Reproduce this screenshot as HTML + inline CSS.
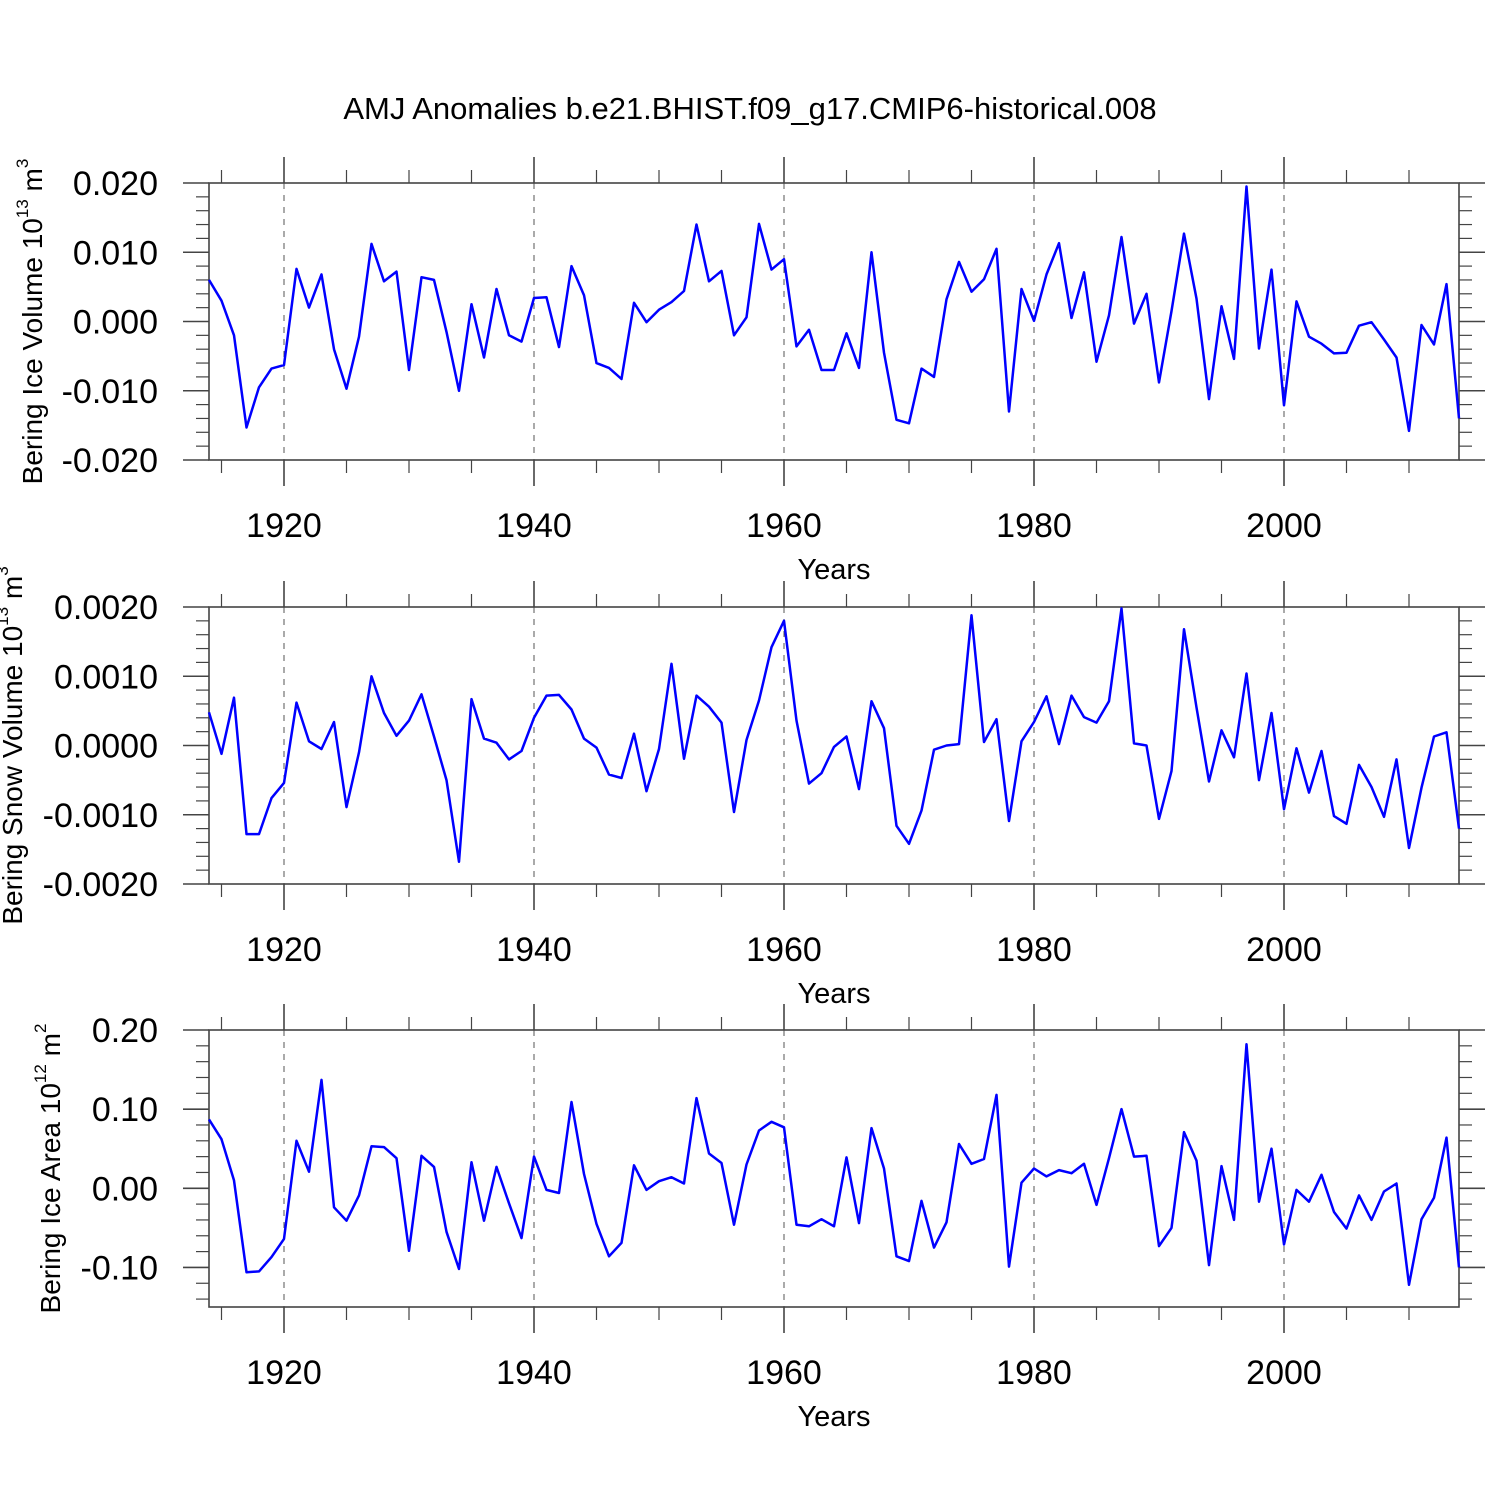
<!DOCTYPE html>
<html><head><meta charset="utf-8"><style>body{margin:0;background:#fff}svg{display:block}text{font-family:"Liberation Sans",sans-serif;fill:#000}</style></head>
<body>
<svg id="chart" width="1500" height="1500" viewBox="0 0 1500 1500" xmlns="http://www.w3.org/2000/svg">
<text x="750" y="119" font-size="31" text-anchor="middle">AMJ Anomalies b.e21.BHIST.f09_g17.CMIP6-historical.008</text>
</svg>
<script>
const startYear = 1914;
const iceVolume = [6,3,-2,-15.3,-9.5,-6.8,-6.3,7.6,2,6.8,-4,-9.7,-2.2,11.2,5.8,7.2,-7,6.4,6,-1.5,-10,2.5,-5.2,4.7,-2,-2.9,3.4,3.5,-3.7,8,3.8,-6,-6.7,-8.3,2.7,-0.1,1.7,2.8,4.4,14,5.8,7.3,-2,0.6,14.1,7.5,9,-3.6,-1.2,-7,-7,-1.7,-6.7,10,-4.5,-14.2,-14.7,-6.8,-8,3.2,8.6,4.3,6.1,10.5,-13,4.7,0.1,6.8,11.3,0.5,7.1,-5.8,0.9,12.2,-0.3,4,-8.8,1.5,12.7,3.3,-11.2,2.2,-5.4,19.5,-3.9,7.5,-12.1,2.9,-2.2,-3.2,-4.6,-4.5,-0.6,-0.1,-2.6,-5.2,-15.8,-0.5,-3.3,5.4,-14].map(v=>v*0.001);
const snowVolume = [4.8,-1.2,6.9,-12.8,-12.8,-7.6,-5.4,6.2,0.6,-0.5,3.4,-8.9,-1,10,4.7,1.4,3.6,7.4,1.3,-5,-16.8,6.7,1,0.4,-2,-0.8,4,7.2,7.3,5.2,1,-0.3,-4.2,-4.7,1.7,-6.6,-0.5,11.8,-1.9,7.2,5.6,3.3,-9.6,0.8,6.5,14.2,18,3.6,-5.5,-4,-0.2,1.3,-6.3,6.4,2.5,-11.6,-14.2,-9.4,-0.6,0,0.2,18.8,0.5,3.8,-10.9,0.6,3.4,7.1,0.2,7.2,4.1,3.3,6.4,19.8,0.3,0,-10.6,-3.7,16.8,5.5,-5.2,2.2,-1.7,10.4,-5,4.7,-9.2,-0.4,-6.8,-0.8,-10.2,-11.3,-2.8,-6,-10.3,-2,-14.8,-6.1,1.3,1.9,-12].map(v=>v*0.0001);
const iceArea = [8.7,6.2,1,-10.6,-10.5,-8.7,-6.4,6,2.1,13.7,-2.4,-4.1,-0.9,5.3,5.2,3.8,-7.9,4.1,2.7,-5.5,-10.2,3.3,-4.1,2.7,-1.9,-6.3,4,-0.2,-0.6,10.9,1.8,-4.5,-8.6,-6.9,2.9,-0.2,0.9,1.4,0.6,11.4,4.4,3.2,-4.6,3,7.3,8.4,7.7,-4.6,-4.8,-3.9,-4.8,3.9,-4.4,7.6,2.5,-8.6,-9.2,-1.6,-7.5,-4.3,5.6,3.1,3.7,11.8,-9.9,0.7,2.5,1.5,2.3,1.9,3.1,-2.1,3.8,10,4,4.1,-7.3,-5,7.1,3.5,-9.7,2.8,-4,18.2,-1.7,5,-7.1,-0.2,-1.7,1.7,-3,-5.1,-0.9,-4,-0.4,0.6,-12.2,-3.9,-1.2,6.4,-10].map(v=>v*0.01);
const xTicks = [1920,1940,1960,1980,2000];
const yTicks1 = ["0.020","0.010","0.000","-0.010","-0.020"];
const yTicks2 = ["0.0020","0.0010","0.0000","-0.0010","-0.0020"];
const yTicks3 = ["0.20","0.10","0.00","-0.10"];

const NS="http://www.w3.org/2000/svg";
const svg=document.getElementById('chart');
function mk(tag,attrs,parent){const e=document.createElementNS(NS,tag);for(const k in attrs)e.setAttribute(k,attrs[k]);(parent||svg).appendChild(e);return e;}
const X0=209,X1=1459,Y0=1914,Y1=2014;
function xs(y){return X0+(y-Y0)/(Y1-Y0)*(X1-X0);}

function panel(id,top,bottom,ymin,ymax,data,ticks,minorStep,title,sup,unitExp){
  const g=mk('g',{});
  
  
  const ys=v=>bottom-(v-ymin)/(ymax-ymin)*(bottom-top);
  xTicks.forEach(t=>{const l=mk('line',{x1:xs(t),x2:xs(t),y1:top,y2:bottom,stroke:'#555','stroke-width':1,'stroke-dasharray':'6,6'},g);
    });
  for(let y=1915;y<=2010;y+=5){const maj=y%20===0;const L=maj?26:13;
    mk('line',{x1:xs(y),x2:xs(y),y1:top,y2:top-L,stroke:'#444','stroke-width':maj?1.6:1.2},g);
    mk('line',{x1:xs(y),x2:xs(y),y1:bottom,y2:bottom+L,stroke:'#444','stroke-width':maj?1.6:1.2},g);}
  xTicks.forEach(t=>{const tx=mk('text',{x:xs(t),y:bottom+77,'font-size':34,'text-anchor':'middle'},g);tx.textContent=t;
    });
  const xt=mk('text',{x:834,y:bottom+119,'font-size':29,'text-anchor':'middle'},g);xt.textContent='Years';
  
  const i0=Math.ceil(ymin/minorStep-1e-6), i1=Math.floor(ymax/minorStep+1e-6);
  for(let i=i0;i<=i1;i++){const v=i*minorStep;const yy=ys(v);
    const majIdx=ticks.findIndex(t=>Math.abs(parseFloat(t)-v)<minorStep/10);
    const L=majIdx>=0?26:13;
    mk('line',{x1:X0,x2:X0-L,y1:yy,y2:yy,stroke:'#444','stroke-width':majIdx>=0?1.6:1.2},g);
    mk('line',{x1:X1,x2:X1+L,y1:yy,y2:yy,stroke:'#444','stroke-width':majIdx>=0?1.6:1.2},g);}
  ticks.forEach(t=>{const tx=mk('text',{x:158,y:ys(parseFloat(t))+12,'font-size':34,'text-anchor':'end'},g);tx.textContent=t;
    });
  const fr=mk('rect',{x:X0,y:top,width:X1-X0,height:bottom-top,fill:'none',stroke:'#444','stroke-width':1.6},g);
  
  const pts=data.map((v,i)=>xs(startYear+i).toFixed(1)+','+ys(v).toFixed(1)).join(' ');
  const pl=mk('polyline',{points:pts,fill:'none',stroke:'#0000ff','stroke-width':2.5,'stroke-linejoin':'round'},g);
  
  const cy=(top+bottom)/2;
  const yt=mk('text',{x:0,y:0,'font-size':28,'text-anchor':'middle',transform:`translate(${title.x},${cy}) rotate(-90)`},g);
  
  yt.innerHTML=title.t+' 10<tspan font-size="17" dy="-14">'+unitExp+'</tspan><tspan dy="14"> m</tspan><tspan font-size="17" dy="-14">'+sup+'</tspan>';
}
panel('ice-volume',183,460,-0.020,0.020,iceVolume,yTicks1,0.002,{x:42,t:'Bering Ice Volume'},'3','13');
panel('snow-volume',607,884,-0.0020,0.0020,snowVolume,yTicks2,0.0002,{x:22,t:'Bering Snow Volume'},'3','13');
panel('ice-area',1030,1307,-0.15,0.20,iceArea,yTicks3,0.02,{x:60,t:'Bering Ice Area'},'2','12');
</script>
</body></html>
